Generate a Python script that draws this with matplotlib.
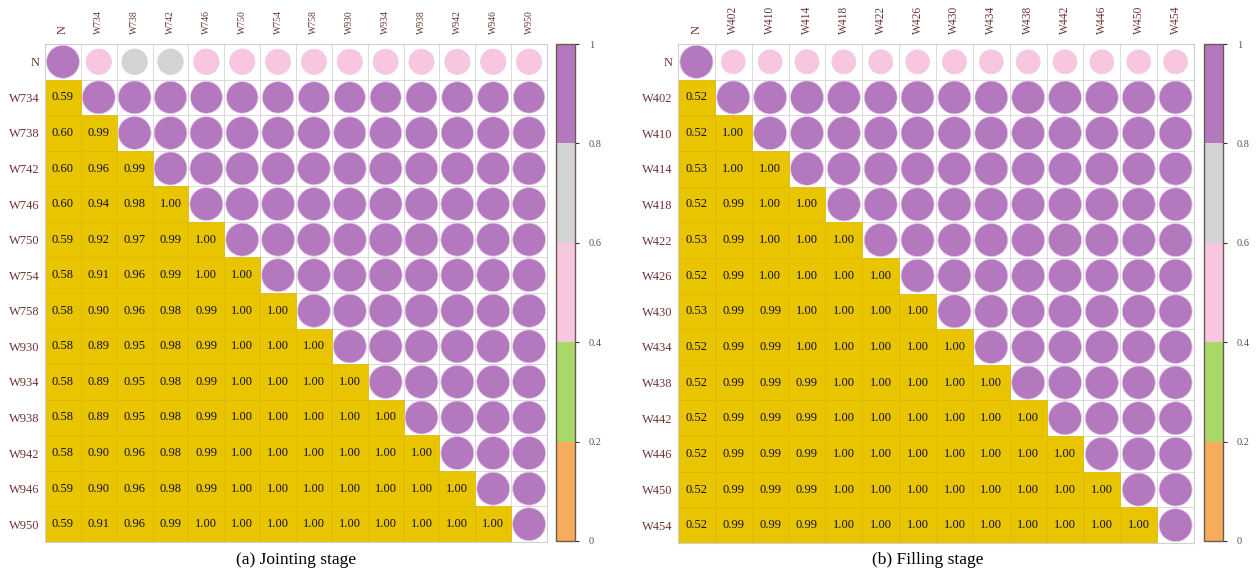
import numpy as np
import matplotlib
matplotlib.use('Agg')
import matplotlib.pyplot as plt
from matplotlib.colors import ListedColormap, BoundaryNorm
from matplotlib.patches import Rectangle

plt.rcParams['font.family'] = ['Liberation Serif', 'DejaVu Serif']

#_____________________________________________________________________________
# data (lower triangle of the correlation matrices, row by row)

labels_a = ['N', 'W734', 'W738', 'W742', 'W746', 'W750', 'W754', 'W758',
            'W930', 'W934', 'W938', 'W942', 'W946', 'W950']
lower_a = [
    [0.59],
    [0.601, 0.99],
    [0.602, 0.96, 0.99],
    [0.598, 0.94, 0.98, 1.00],
    [0.59, 0.92, 0.97, 0.99, 1.00],
    [0.58, 0.91, 0.96, 0.99, 1.00, 1.00],
    [0.58, 0.90, 0.96, 0.98, 0.99, 1.00, 1.00],
    [0.58, 0.89, 0.95, 0.98, 0.99, 1.00, 1.00, 1.00],
    [0.58, 0.89, 0.95, 0.98, 0.99, 1.00, 1.00, 1.00, 1.00],
    [0.58, 0.89, 0.95, 0.98, 0.99, 1.00, 1.00, 1.00, 1.00, 1.00],
    [0.58, 0.90, 0.96, 0.98, 0.99, 1.00, 1.00, 1.00, 1.00, 1.00, 1.00],
    [0.59, 0.90, 0.96, 0.98, 0.99, 1.00, 1.00, 1.00, 1.00, 1.00, 1.00, 1.00],
    [0.59, 0.91, 0.96, 0.99, 1.00, 1.00, 1.00, 1.00, 1.00, 1.00, 1.00, 1.00, 1.00],
]

labels_b = ['N', 'W402', 'W410', 'W414', 'W418', 'W422', 'W426', 'W430',
            'W434', 'W438', 'W442', 'W446', 'W450', 'W454']
lower_b = [
    [0.52],
    [0.52, 1.00],
    [0.53, 1.00, 1.00],
    [0.52, 0.99, 1.00, 1.00],
    [0.53, 0.99, 1.00, 1.00, 1.00],
    [0.52, 0.99, 1.00, 1.00, 1.00, 1.00],
    [0.53, 0.99, 0.99, 1.00, 1.00, 1.00, 1.00],
    [0.52, 0.99, 0.99, 1.00, 1.00, 1.00, 1.00, 1.00],
    [0.52, 0.99, 0.99, 0.99, 1.00, 1.00, 1.00, 1.00, 1.00],
    [0.52, 0.99, 0.99, 0.99, 1.00, 1.00, 1.00, 1.00, 1.00, 1.00],
    [0.52, 0.99, 0.99, 0.99, 1.00, 1.00, 1.00, 1.00, 1.00, 1.00, 1.00],
    [0.52, 0.99, 0.99, 0.99, 1.00, 1.00, 1.00, 1.00, 1.00, 1.00, 1.00, 1.00],
    [0.52, 0.99, 0.99, 0.99, 1.00, 1.00, 1.00, 1.00, 1.00, 1.00, 1.00, 1.00, 1.00],
]

captions = ['(a) Jointing stage', '(b) Filling stage']
cbar_ticks = [0, 0.2, 0.4, 0.6, 0.8, 1]

#_____________________________________________________________________________
# colours

bin_colors = ['#F6AC5B', '#A8D868', '#F8C6DF', '#D3D3D3', '#B478BF']
cmap = ListedColormap(bin_colors)
cmap.set_over(bin_colors[-1])
norm = BoundaryNorm(cbar_ticks, cmap.N)
gold = '#E9C400'
lab_col = '#6E3434'

def full_matrix(lower):
    n = len(lower) + 1
    m = np.eye(n)
    for i, row in enumerate(lower):
        for j, v in enumerate(row):
            m[i + 1, j] = v
            m[j, i + 1] = v
    return m

W, H = 1257, 573
fig = plt.figure(figsize=(W / 100, H / 100), dpi=100)

def box(x0, y0, x1, y1):
    return [x0 / W, 1 - y1 / H, (x1 - x0) / W, (y1 - y0) / H]

panels = [
    (labels_a, lower_a, box(45, 44, 547, 542), box(556, 44, 575, 541), 7, 296, captions[0]),
    (labels_b, lower_b, box(678, 44, 1194, 543), box(1204, 44, 1223, 541), 8.3, 928, captions[1]),
]

for labels, lower, axpos, cpos, colfs, capx, cap in panels:
    mat = full_matrix(lower)
    n = len(labels)
    ax = fig.add_axes(axpos)
    ax.set_xlim(0, n)
    ax.set_ylim(n, 0)

    # grid
    for k in range(n + 1):
        ax.axhline(k, color='#DADADA', lw=0.7, zorder=0)
        ax.axvline(k, color='#DADADA', lw=0.7, zorder=0)

    # cell size in points for circle diameters
    cell_pt = min(axpos[2] * W, axpos[3] * H) / n * 0.72
    xs, ys, ss, cs = [], [], [], []
    for i in range(n):
        for j in range(n):
            v = mat[i, j]
            if j < i:
                ax.add_patch(Rectangle((j, i), 1, 1, facecolor=gold,
                                       edgecolor='#DDB900', lw=0.5, zorder=1))
                ax.text(j + 0.5, i + 0.5, '%.2f' % v, ha='center', va='center',
                        fontsize=9, color='#111111', zorder=3)
            else:
                xs.append(j + 0.5)
                ys.append(i + 0.5)
                ss.append((0.93 * cell_pt * np.sqrt(abs(v))) ** 2)
                cs.append(cmap(norm(min(v, 0.9999))))
    ax.scatter(xs, ys, s=ss, c=cs, edgecolors='#E6D0EA', linewidths=0.6, zorder=2)

    ax.xaxis.tick_top()
    ax.set_xticks(np.arange(n) + 0.5)
    ax.set_yticks(np.arange(n) + 0.5)
    ax.set_xticklabels(labels, rotation=90, color=lab_col)
    ax.set_yticklabels(labels, fontsize=9, color=lab_col)
    for k, tick in enumerate(ax.xaxis.get_major_ticks()):
        tick.label2.set_fontsize(9 if k == 0 else colfs)
        tick.label2.set_rotation(90)
    ax.tick_params(axis='both', length=0)
    ax.tick_params(axis='x', pad=7)
    ax.tick_params(axis='y', pad=4)
    for sp in ax.spines.values():
        sp.set_color('#D0D0D0')
        sp.set_linewidth(0.8)

    # colour bar
    cax = fig.add_axes(cpos)
    sm = plt.cm.ScalarMappable(cmap=cmap, norm=norm)
    cb = fig.colorbar(sm, cax=cax, ticks=cbar_ticks)
    cb.ax.set_yticklabels(['0', '0.2', '0.4', '0.6', '0.8', '1'])
    cb.ax.tick_params(length=3, width=0.8, color='#333333', labelsize=7.5,
                      labelcolor='#555555', pad=7)
    cb.outline.set_edgecolor('#6A5A50')
    cb.outline.set_linewidth(1.0)

    fig.text(capx / W, 1 - 560 / H, cap, ha='center', va='center', fontsize=12.5)

fig.savefig('out.png', dpi=100)
